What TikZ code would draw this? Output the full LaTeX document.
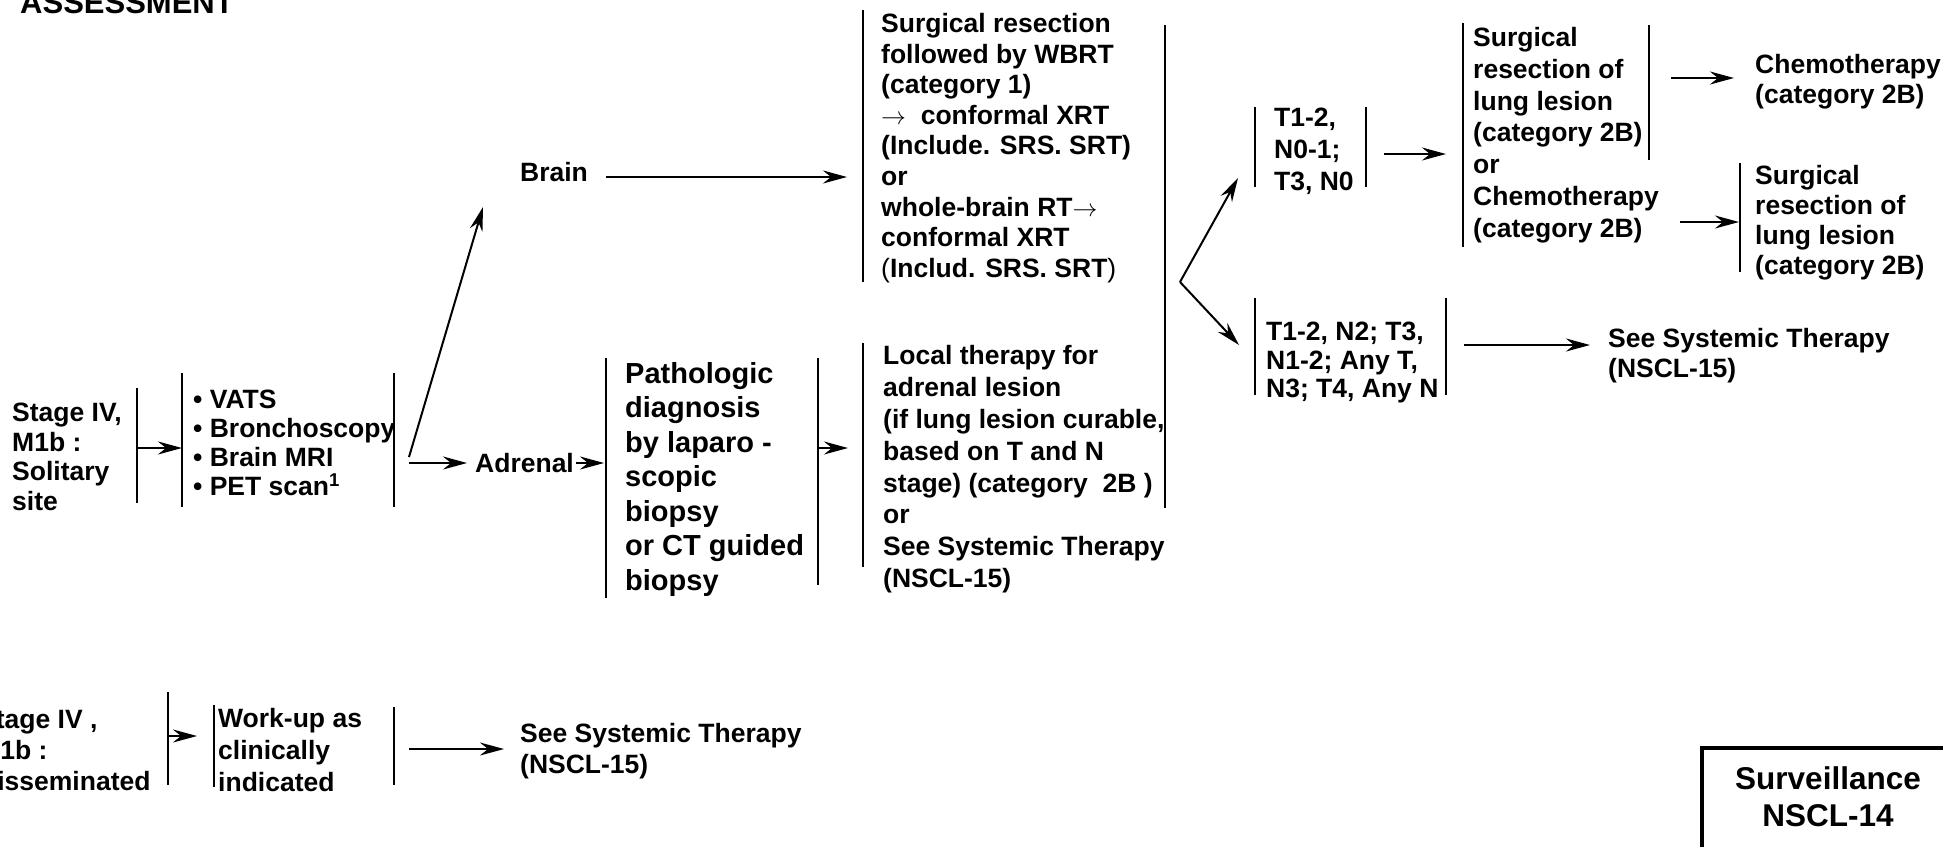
\documentclass[tikz,border=0pt]{standalone}
\usepackage{fontspec}
\setmainfont{Liberation Sans}
\usetikzlibrary{arrows.meta,positioning}

\begin{document}
\begin{tikzpicture}[
    x=1pt, y=-1pt,
    txt/.style={font=\fontsize{26.5}{#1}\selectfont\bfseries, align=left, anchor=north west, inner sep=0pt},
    txt/.default=31,
    lbl/.style={font=\fontsize{26.5}{31}\selectfont\bfseries, anchor=west, inner sep=0pt},
    bar/.style={line width=1.8pt},
    arrow/.style={-{Stealth[length=24pt,width=13pt,inset=8pt]}, line width=2pt}
]
\useasboundingbox (0,0) rectangle (1943,846);
\clip (0,0) rectangle (1943,846);

% Header
\node[lbl, font=\fontsize{31}{36}\selectfont\bfseries, anchor=base west] (head) at (20,13) {ASSESSMENT};

% Solitary site
\node[txt=29.5] (solit) at (12,403) {Stage IV,\\M1b :\\Solitary\\site};
\node[txt=29] (vats) at (193,390) {\textbullet\ VATS\\\textbullet\ Bronchoscopy\\\textbullet\ Brain MRI\\\textbullet\ PET scan\textsuperscript{1}};
\node[lbl] (brain) at (520,172) {Brain};
\node[lbl] (adrenal) at (475,463) {Adrenal};
\node[txt, font=\fontsize{29}{34.5}\selectfont\bfseries] (path) at (625,362) {Pathologic\\diagnosis\\by laparo -\\scopic\\biopsy\\or CT guided\\biopsy};

% Treatment
\node[txt=30.6] (brainrx) at (881,13) {Surgical resection\\followed by WBRT\\(category 1)\\$\rightarrow$\ \ conformal XRT\\(Include. SRS. SRT)\\or\\whole-brain RT$\rightarrow$\\conformal XRT\\{\mdseries(}Includ. SRS. SRT{\mdseries)}};
\node[txt=31.9] (adrrx) at (883,345) {Local therapy for\\adrenal lesion\\(if lung lesion curable,\\based on T and N\\stage) (category\ \ 2B )\\or\\See Systemic Therapy\\(NSCL-15)};

% T and N stage
\node[txt=32] (early) at (1274,108) {T1-2,\\N0-1;\\T3, N0};
\node[txt=28.5] (late) at (1266,322) {T1-2, N2; T3,\\N1-2; Any T,\\N3; T4, Any N};
\node[txt=31.8] (resect) at (1473,27) {Surgical\\resection of\\lung lesion\\(category 2B)\\or\\Chemotherapy\\(category 2B)};
\node[txt=30] (chemo) at (1755,54) {Chemotherapy\\(category 2B)};
\node[txt=30] (resect2) at (1755,165) {Surgical\\resection of\\lung lesion\\(category 2B)};
\node[txt=30] (sys1) at (1608,328) {See Systemic Therapy\\(NSCL-15)};

% Disseminated
\node[txt=31] (dissem) at (-22,710) {Stage IV ,\\M1b :\\Disseminated};
\node[txt=32] (workup) at (218,708) {Work-up as\\clinically\\indicated};
\node[txt=31] (sys2) at (520,723) {See Systemic Therapy\\(NSCL-15)};

% Surveillance
\node[lbl, font=\fontsize{31.5}{37}\selectfont\bfseries, anchor=center, align=center] (surv) at (1828,797) {Surveillance\\NSCL-14};
\draw[line width=4pt] (1702,880) |- (1956,748) -- (1956,880);

% Brackets
\draw[bar] (137,388) -- (137,503);
\draw[bar] (182,373) -- (182,507);
\draw[bar] (394,373) -- (394,507);
\draw[bar] (606,358) -- (606,598);
\draw[bar] (818,358) -- (818,585);
\draw[bar] (863,10) -- (863,282);
\draw[bar] (863,343) -- (863,567);
\draw[bar] (1165,25) -- (1165,508);
\draw[bar] (1255,107) -- (1255,187);
\draw[bar] (1366,107) -- (1366,187);
\draw[bar] (1463,23) -- (1463,247);
\draw[bar] (1649,25) -- (1649,160);
\draw[bar] (1740,163) -- (1740,272);
\draw[bar] (1255,298) -- (1255,395);
\draw[bar] (1446,298) -- (1446,395);
\draw[bar] (168,692) -- (168,785);
\draw[bar] (214,705) -- (214,787);
\draw[bar] (394,707) -- (394,785);

% Connector ends
\coordinate (solit-out) at (137,448);
\coordinate (vats-in) at (182,448);
\coordinate (vats-out) at (409,457);
\coordinate (vats-out2) at (409,463);
\coordinate (brain-in) at (483,207);
\coordinate (adr-in) at (467,463);
\coordinate (adr-out) at (576,463);
\coordinate (path-in) at (604,463);
\coordinate (path-out) at (818,448);
\coordinate (adrrx-in) at (848,448);
\coordinate (brain-out) at (606,177);
\coordinate (brainrx-in) at (847,177);
\coordinate (fork) at (1180,282);
\coordinate (early-in) at (1238,178);
\coordinate (late-in) at (1239,345);
\coordinate (early-out) at (1384,154);
\coordinate (resect-in) at (1446,154);
\coordinate (resect-out) at (1671,78);
\coordinate (chemo-in) at (1734,78);
\coordinate (resect-out2) at (1680,222);
\coordinate (resect2-in) at (1739,222);
\coordinate (late-out) at (1464,345);
\coordinate (sys1-in) at (1590,345);
\coordinate (dissem-out) at (168,736);
\coordinate (workup-in) at (197,736);
\coordinate (workup-out) at (409,749);
\coordinate (sys2-in) at (504,749);

% Arrows
\draw[arrow] (solit-out) -- (vats-in);
\draw[arrow] (vats-out) -- (brain-in);
\draw[arrow] (vats-out2) -- (adr-in);
\draw[arrow] (adr-out) -- (path-in);
\draw[arrow] (path-out) -- (adrrx-in);
\draw[arrow] (brain-out) -- (brainrx-in);

\draw[arrow] (fork) -- (early-in);
\draw[arrow] (fork) -- (late-in);
\draw[arrow] (early-out) -- (resect-in);
\draw[arrow] (resect-out) -- (chemo-in);
\draw[arrow] (resect-out2) -- (resect2-in);
\draw[arrow] (late-out) -- (sys1-in);

\draw[arrow] (dissem-out) -- (workup-in);
\draw[arrow] (workup-out) -- (sys2-in);

\end{tikzpicture}
\end{document}
